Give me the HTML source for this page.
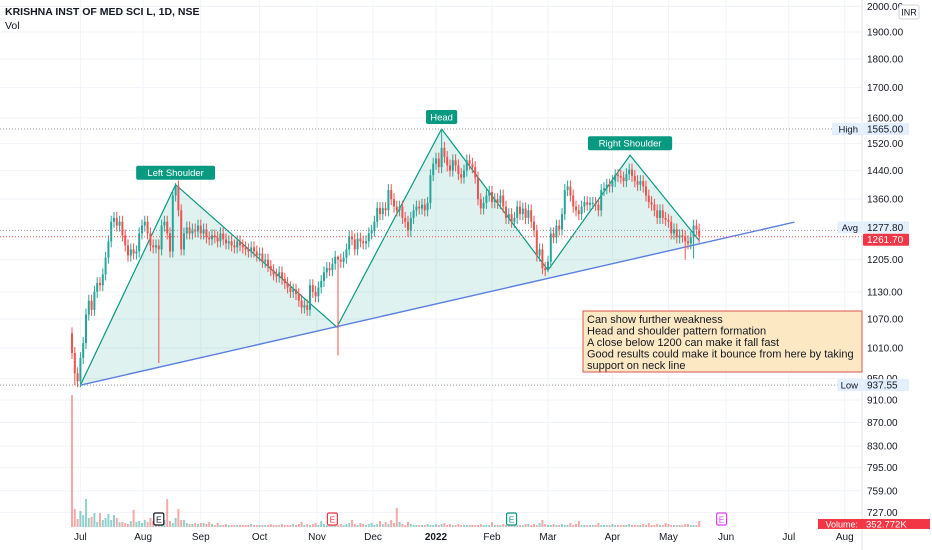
<!DOCTYPE html>
<html><head><meta charset="utf-8"><style>
html,body{margin:0;padding:0;background:#fff;}
svg{display:block;font-family:"Liberation Sans",sans-serif;}
</style></head><body>
<svg id="c" width="932" height="550" viewBox="0 0 932 550">
<rect x="0" y="0" width="932" height="550" fill="#fff"/>
<g id="grid"></g>
<g id="pattern"></g>
<g id="vols"></g>
<g id="candles"></g>
<g id="overlay"></g>
<rect x="862" y="0" width="70" height="550" fill="#fff"/>
<line x1="862" y1="0" x2="862" y2="550" stroke="#e0e3eb"/>
<g id="axis"></g>
<text x="5" y="15" font-size="10.5" font-weight="bold" fill="#131722">KRISHNA INST OF MED SCI L, 1D, NSE</text>
<text x="5" y="29" font-size="10.5" fill="#131722">Vol</text>
<rect x="899" y="5" width="20" height="14" rx="2" fill="#fff" stroke="#d1d4dc"/>
<text x="909" y="15.5" font-size="9" text-anchor="middle" fill="#131722">INR</text>
<g>
<rect x="583" y="311" width="279" height="61" fill="#fde8c4" stroke="#d9534f" stroke-width="1"/>
<text font-size="11" fill="#131722">
<tspan x="587" y="323">Can show further weakness</tspan>
<tspan x="587" y="334.5">Head and shoulder pattern formation</tspan>
<tspan x="587" y="346">A close below 1200 can make it fall fast</tspan>
<tspan x="587" y="357.5">Good results could make it bounce from here by taking</tspan>
<tspan x="587" y="369">support on neck line</tspan>
</text>
</g>
</svg>
<script>
const closes = [
1000,960,945,990,1020,1080,1110,1090,1130,1150,
1145,1170,1210,1250,1300,1310,1290,1300,1265,1240,
1215,1230,1220,1225,1270,1290,1300,1270,1240,1235,
1240,1230,1290,1300,1270,1225,1370,1395,1330,1230,
1270,1285,1270,1280,1275,1290,1270,1280,1260,1255,
1265,1260,1250,1270,1255,1245,1250,1240,1235,1250,
1240,1235,1230,1225,1235,1225,1215,1220,1200,1205,
1190,1180,1170,1165,1175,1160,1150,1140,1130,1135,
1125,1110,1095,1100,1090,1145,1130,1120,1140,1155,
1175,1185,1180,1195,1212,1205,1200,1210,1230,1262,
1255,1230,1257,1250,1245,1250,1270,1277,1300,1336,
1320,1336,1330,1385,1360,1340,1330,1340,1310,1300,
1277,1310,1330,1340,1335,1345,1330,1350,1427,1460,
1475,1450,1507,1480,1455,1440,1470,1455,1430,1420,
1440,1470,1460,1450,1420,1360,1335,1350,1370,1380,
1352,1360,1350,1370,1340,1310,1320,1300,1310,1340,
1320,1335,1310,1330,1300,1277,1215,1230,1185,1180,
1200,1270,1260,1290,1280,1320,1385,1395,1370,1340,
1330,1320,1340,1352,1345,1350,1350,1345,1330,1385,
1390,1400,1395,1410,1427,1425,1420,1410,1430,1443,
1425,1410,1400,1410,1395,1370,1352,1345,1330,1310,
1330,1310,1305,1300,1270,1280,1260,1265,1262,1250,
1245,1260,1290,1280,1261.7];
const firstOpen = 1040;
const highOverrides = {37:1405, 132:1565, 95:1215, 36:1380};
const lowOverrides = {1:937.55, 31:980, 95:995, 170:1175, 219:1205, 222:1208};
const volumes = [
132,18,8,16,12,28,9,10,14,5, 14,7,9,13,7,12,9,5,5,4, 3,6,17,5,6,4,7,5,9,6,
7,4,5,7,28,6,4,9,18,7, 7,4,3,3,4,3,4,4,3,5, 3,2,4,2,2,3,2,2,2,2,
2,2,2,2,3,2,2,2,2,2, 2,3,2,2,2,3,2,2,2,3, 2,3,5,2,3,2,3,4,2,6,
3,2,5,3,2,2,3,2,3,4, 7,3,2,4,3,2,3,4,2,3, 6,3,5,3,7,4,19,5,3,2,
5,3,2,2,2,2,2,3,2,2, 3,2,3,4,2,3,2,2,3,2, 2,2,2,2,2,2,3,2,2,2,
5,2,2,2,3,2,2,3,2,2, 2,2,3,3,2,3,2,4,7,3, 2,2,3,2,2,3,2,2,4,2,
3,6,2,2,2,2,2,2,4,2, 2,2,2,3,2,2,2,2,2,3, 2,2,2,2,3,2,4,2,2,3,
2,2,4,3,2,2,2,2,2,3, 3,2,2,2,6];
const monthLabels = ["Jul","Aug","Sep","Oct","Nov","Dec","2022","Feb","Mar","Apr","May","Jun","Jul","Aug"];
const monthIdx = [3,25.4,46,67,87.5,107.5,130,150,170,193,213,233.6,256,276];
const priceTicks = [2000,1900,1800,1700,1600,1520,1440,1360,1205,1130,1070,1010,950,910,870,830,795,759,727];
const zigIdx = [3,37,94.6,132,170,199.3,224];
const zigPrice = [937.55,1400,1053,1565,1180,1485,1252];
const neckIdx = [3,258];
const neckPrice = [937.55,1299];
const highPrice = 1565, lowPrice = 937.55, avgPrice = 1277.8, lastPrice = 1261.7;
const volumeText = "352.772K";
const earnIdx = [31,93,157,232];
const earnColors = ["#131722","#f23645","#089981","#e040fb"];

const NS="http://www.w3.org/2000/svg";
function X(i){return 72+2.8*i;}
function Y(p){return 32+500*Math.log(1900/p);}
const volBase=527, volMax=Math.max(...volumes);
function VH(v){return v/volMax*132;}
function mk(tag,attrs,parent){const e=document.createElementNS(NS,tag);for(const k in attrs)e.setAttribute(k,attrs[k]);parent.appendChild(e);return e;}
const grid=document.getElementById('grid'),cg=document.getElementById('candles'),vg=document.getElementById('vols'),pg=document.getElementById('pattern'),og=document.getElementById('overlay'),ag=document.getElementById('axis');

priceTicks.forEach(p=>{
  const l=mk('line',{x1:0,x2:862,y1:Y(p),y2:Y(p),stroke:'#f0f3fa'},grid);
  
  
  const t=mk('text',{x:867,y:Y(p)+3.5,'font-size':10,fill:'#131722'},ag);
  t.textContent=p.toFixed(2);
  
  
});
monthLabels.forEach((m,k)=>{
  const x=X(monthIdx[k]);
  const l=mk('line',{x1:x,x2:x,y1:0,y2:527,stroke:'#f0f3fa'},grid);
  
  
  const t=mk('text',{x:x,y:540,'font-size':10,'text-anchor':'middle',fill:'#131722','font-weight':m==='2022'?'bold':'normal'},ag);
  t.textContent=m;
  
  
});

let pts=zigIdx.map((v,k)=>X(v)+','+Y(zigPrice[k]));
const nY=i=>{const t=(i-neckIdx[0])/(neckIdx[1]-neckIdx[0]);return Y(neckPrice[0])+t*(Y(neckPrice[1])-Y(neckPrice[0]));};
const fill=mk('polygon',{points:pts.join(' ')+' '+X(zigIdx[zigIdx.length-1])+','+nY(zigIdx[zigIdx.length-1])+' '+X(zigIdx[0])+','+nY(zigIdx[0]),fill:'rgba(8,153,129,0.13)',stroke:'none'},pg);


const zz=mk('polyline',{points:pts.join(' '),fill:'none',stroke:'#089981','stroke-width':1.2},pg);


const nl=mk('line',{x1:X(neckIdx[0]),y1:Y(neckPrice[0]),x2:X(neckIdx[1]),y2:Y(neckPrice[1]),stroke:'#5b7fe0','stroke-width':1.4},pg);



let prev=firstOpen;
closes.forEach((c,i)=>{
  const o=prev; prev=c;
  const up=c>=o, col=up?'#26a69a':'#ef5350';
  const h=highOverrides[i]!==undefined?highOverrides[i]:Math.max(o,c)*1.012;
  const l=lowOverrides[i]!==undefined?lowOverrides[i]:Math.min(o,c)*0.988;
  const x=X(i);
  const w=mk('line',{x1:x,x2:x,y1:Y(h),y2:Y(l),stroke:col,'stroke-width':1},cg);
  
  
  const yt=Math.min(Y(o),Y(c)),bh=Math.max(1,Math.abs(Y(o)-Y(c)));
  const b=mk('rect',{x:x-1,y:yt,width:2,height:bh,fill:col},cg);
  
  
  const vh=VH(volumes[i]);
  const v=mk('rect',{x:x-1,y:volBase-vh,width:2,height:vh,fill:up?'rgba(38,166,154,0.5)':'rgba(239,83,80,0.5)'},vg);
  
  
});

[["Left Shoulder",1],["Head",3],["Right Shoulder",5]].forEach(([s,k])=>{
  const x=X(zigIdx[k]),y=Y(zigPrice[k])-12;
  const w=s.length*5.3+10;
  const g=mk('g',{},og);
  
  
  mk('rect',{x:x-w/2,y:y-7,width:w,height:14,rx:2,fill:'#089981'},g);
  const t=mk('text',{x:x,y:y+3.5,'font-size':9.5,'text-anchor':'middle',fill:'#fff'},g);
  t.textContent=s;
});

function hline(p,col,dash,name){const l=mk('line',{x1:0,x2:862,y1:Y(p),y2:Y(p),stroke:col,'stroke-dasharray':dash,'stroke-width':1},og);

}
hline(highPrice,'#9598a1','1,2','high-line');
hline(lowPrice,'#9598a1','1,2','low-line');
hline(avgPrice,'#9598a1','1,2','avg-line');
hline(lastPrice,'#ef5350','1,2','last-price-line');
function badge(p,lbl,val,bg,fg,dy){
  const y=Y(p)+dy;
  const g=mk('g',{},ag);
  
  
  if(lbl){mk('rect',{x:862-(lbl.length*5.5+8),y:y-6,width:lbl.length*5.5+8,height:12,fill:bg},g);
    const t=mk('text',{x:858,y:y+3.5,'font-size':9.5,'text-anchor':'end',fill:'#131722'},g);t.textContent=lbl;}
  mk('rect',{x:863,y:y-6,width:46,height:12,fill:bg,rx:1},g);
  const t2=mk('text',{x:867,y:y+3.5,'font-size':10,fill:fg},g);t2.textContent=val;
}
badge(highPrice,'High',highPrice.toFixed(2),'#e3effd','#131722',0);
badge(avgPrice,'Avg',avgPrice.toFixed(2),'#e3effd','#131722',-3);
badge(lastPrice,'',lastPrice.toFixed(2),'#f23645','#fff',3);
badge(lowPrice,'Low',lowPrice.toFixed(2),'#e3effd','#131722',0);
const vgL=mk('g',{},ag);


mk('rect',{x:818,y:519,width:44,height:10,fill:'#f23645'},vgL);
mk('rect',{x:862,y:519,width:68,height:10,fill:'#f23645'},vgL);
const vt1b=mk('text',{x:858,y:527.5,'font-size':9,'text-anchor':'end',fill:'#fff'},vgL);vt1b.textContent='Volume:';
const vt2=mk('text',{x:866,y:527.5,'font-size':9.5,fill:'#fff'},vgL);vt2.textContent=volumeText;

earnIdx.forEach((i,k)=>{
  const x=X(i);
  const g=mk('g',{},og);
  
  
  mk('rect',{x:x-5,y:513,width:10,height:12,rx:1.5,fill:'#fff',stroke:earnColors[k],'stroke-width':1.2},g);
  const t=mk('text',{x:x,y:522.5,'font-size':8.5,'text-anchor':'middle',fill:earnColors[k]},g);t.textContent='E';
});
</script>
</body></html>
